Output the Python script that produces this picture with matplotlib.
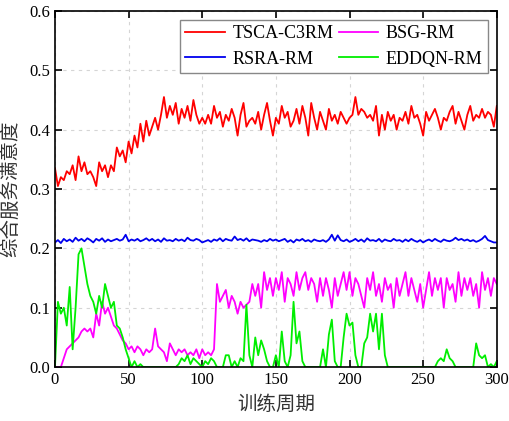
import matplotlib.pyplot as plt
import numpy as np

# training epochs (every 2nd epoch)
epochs = np.arange(0, 301, 2)

tsca_c3rm = [
    0.335, 0.305, 0.320, 0.315, 0.330, 0.325, 0.340, 0.315, 0.355, 0.330,
    0.345, 0.325, 0.330, 0.320, 0.305, 0.345, 0.330, 0.340, 0.320, 0.340,
    0.330, 0.370, 0.355, 0.365, 0.345, 0.380, 0.360, 0.390, 0.370, 0.410,
    0.380, 0.415, 0.390, 0.405, 0.420, 0.400, 0.425, 0.455, 0.420, 0.440,
    0.425, 0.445, 0.410, 0.435, 0.420, 0.440, 0.415, 0.450, 0.425, 0.410,
    0.420, 0.410, 0.425, 0.410, 0.440, 0.420, 0.430, 0.405, 0.425, 0.415,
    0.435, 0.420, 0.390, 0.425, 0.445, 0.405, 0.415, 0.420, 0.410, 0.430,
    0.400, 0.425, 0.445, 0.415, 0.390, 0.420, 0.410, 0.440, 0.420, 0.430,
    0.405, 0.415, 0.435, 0.410, 0.440, 0.420, 0.390, 0.445, 0.420, 0.400,
    0.430, 0.415, 0.400, 0.435, 0.415, 0.425, 0.410, 0.430, 0.420, 0.410,
    0.420, 0.425, 0.455, 0.425, 0.435, 0.430, 0.420, 0.425, 0.415, 0.440,
    0.390, 0.425, 0.400, 0.430, 0.415, 0.425, 0.400, 0.420, 0.415, 0.430,
    0.410, 0.440, 0.420, 0.425, 0.410, 0.390, 0.430, 0.415, 0.425, 0.435,
    0.420, 0.400, 0.420, 0.415, 0.430, 0.440, 0.410, 0.430, 0.415, 0.400,
    0.425, 0.440, 0.415, 0.425, 0.420, 0.435, 0.420, 0.430, 0.425, 0.405,
    0.440,
]

rsra_rm = [
    0.210, 0.214, 0.209, 0.216, 0.212, 0.215, 0.211, 0.218, 0.213, 0.216,
    0.212, 0.217, 0.214, 0.210, 0.216, 0.213, 0.217, 0.211, 0.215, 0.212,
    0.214, 0.216, 0.213, 0.215, 0.223, 0.212, 0.215, 0.213, 0.216, 0.212,
    0.214, 0.217, 0.213, 0.216, 0.212, 0.215, 0.211, 0.217, 0.213, 0.214,
    0.212, 0.216, 0.213, 0.215, 0.212, 0.218, 0.214, 0.213, 0.216, 0.214,
    0.210, 0.212, 0.214, 0.211, 0.215, 0.213, 0.217, 0.212, 0.216, 0.214,
    0.213, 0.220, 0.214, 0.216, 0.213, 0.217, 0.212, 0.215, 0.214, 0.213,
    0.211, 0.214, 0.212, 0.216, 0.213, 0.215, 0.212, 0.214, 0.216, 0.211,
    0.214, 0.210, 0.215, 0.213, 0.216, 0.212, 0.214, 0.211, 0.215, 0.213,
    0.212, 0.214, 0.211, 0.215, 0.223, 0.213, 0.222, 0.214, 0.212, 0.215,
    0.211, 0.213, 0.216, 0.212, 0.215, 0.211, 0.217, 0.213, 0.214, 0.212,
    0.216, 0.211, 0.215, 0.213, 0.212, 0.216, 0.213, 0.214, 0.211, 0.215,
    0.212, 0.216, 0.213, 0.211, 0.214, 0.210, 0.213, 0.215, 0.212, 0.216,
    0.213, 0.211, 0.215, 0.213, 0.212, 0.214, 0.218, 0.214, 0.216, 0.213,
    0.215, 0.212, 0.214, 0.211, 0.213, 0.216, 0.221, 0.214, 0.212, 0.210,
    0.210,
]

bsg_rm = [
    0.000, 0.000, 0.000, 0.015, 0.030, 0.035, 0.040, 0.045, 0.050, 0.060,
    0.065, 0.060, 0.065, 0.050, 0.090, 0.070, 0.110, 0.090, 0.100, 0.085,
    0.070, 0.065, 0.055, 0.045, 0.040, 0.030, 0.035, 0.025, 0.035, 0.030,
    0.020, 0.030, 0.025, 0.030, 0.065, 0.035, 0.030, 0.025, 0.010, 0.040,
    0.030, 0.020, 0.030, 0.025, 0.030, 0.020, 0.025, 0.020, 0.030, 0.015,
    0.030, 0.020, 0.025, 0.020, 0.030, 0.140, 0.110, 0.120, 0.130, 0.100,
    0.120, 0.110, 0.090, 0.110, 0.100, 0.105, 0.110, 0.140, 0.120, 0.140,
    0.100, 0.160, 0.130, 0.150, 0.120, 0.150, 0.130, 0.160, 0.110, 0.150,
    0.140, 0.120, 0.160, 0.130, 0.150, 0.160, 0.130, 0.150, 0.140, 0.110,
    0.150, 0.120, 0.150, 0.130, 0.100, 0.150, 0.120, 0.140, 0.160, 0.130,
    0.160, 0.120, 0.150, 0.140, 0.120, 0.100, 0.150, 0.130, 0.160, 0.120,
    0.140, 0.110, 0.150, 0.130, 0.140, 0.100, 0.150, 0.120, 0.140, 0.160,
    0.120, 0.150, 0.130, 0.110, 0.140, 0.100, 0.130, 0.160, 0.120, 0.150,
    0.130, 0.150, 0.100, 0.150, 0.130, 0.140, 0.110, 0.160, 0.120, 0.150,
    0.130, 0.150, 0.120, 0.140, 0.100, 0.160, 0.130, 0.150, 0.120, 0.150,
    0.140,
]

eddqn_rm = [
    0.000, 0.110, 0.090, 0.100, 0.070, 0.135, 0.030, 0.100, 0.190, 0.200,
    0.170, 0.140, 0.120, 0.110, 0.090, 0.120, 0.100, 0.140, 0.120, 0.100,
    0.110, 0.070, 0.065, 0.050, 0.030, 0.015, 0.000, 0.010, 0.000, 0.005,
    0.000, 0.000, 0.000, 0.000, 0.000, 0.000, 0.000, 0.000, 0.000, 0.000,
    0.000, 0.000, 0.005, 0.015, 0.010, 0.020, 0.005, 0.015, 0.010, 0.005,
    0.000, 0.010, 0.005, 0.015, 0.010, 0.000, 0.000, 0.000, 0.020, 0.020,
    0.000, 0.010, 0.000, 0.015, 0.010, 0.105, 0.020, 0.000, 0.050, 0.020,
    0.045, 0.030, 0.010, 0.000, 0.000, 0.020, 0.000, 0.060, 0.010, 0.000,
    0.020, 0.110, 0.040, 0.060, 0.010, 0.000, 0.000, 0.000, 0.000, 0.000,
    0.000, 0.030, 0.000, 0.055, 0.080, 0.010, 0.000, 0.000, 0.050, 0.090,
    0.070, 0.075, 0.020, 0.000, 0.000, 0.040, 0.050, 0.090, 0.060, 0.090,
    0.030, 0.090, 0.020, 0.000, 0.000, 0.000, 0.000, 0.000, 0.000, 0.000,
    0.000, 0.000, 0.000, 0.000, 0.000, 0.000, 0.000, 0.000, 0.000, 0.000,
    0.010, 0.015, 0.010, 0.030, 0.015, 0.010, 0.000, 0.000, 0.000, 0.000,
    0.000, 0.000, 0.000, 0.040, 0.020, 0.015, 0.020, 0.000, 0.005, 0.000,
    0.010,
]

series_labels = ["TSCA-C3RM", "RSRA-RM", "BSG-RM", "EDDQN-RM"]
series_colors = ["#ff0000", "#0000ee", "#ff00ff", "#00ee00"]

plt.rcParams['font.family'] = ['Liberation Serif', 'Noto Sans CJK SC']

fig = plt.figure(figsize=(5.09, 4.21), dpi=100)
ax = fig.add_axes([0.108, 0.128, 0.868, 0.846])

for vals, lab, col in zip([tsca_c3rm, rsra_rm, bsg_rm, eddqn_rm], series_labels, series_colors):
    ax.plot(epochs, vals, color=col, linewidth=1.3, label=lab)

ax.set_xlim(0, 300)
ax.set_ylim(0, 0.6)
ax.set_xticks(np.arange(0, 301, 50))
ax.set_yticks(np.arange(0, 0.61, 0.1))
ax.set_yticklabels([f"{v:.1f}" for v in np.arange(0, 0.61, 0.1)])
ax.grid(True, linestyle=(0, (3, 4)), color="#d5d5d5", linewidth=0.8)
ax.tick_params(direction="in", top=True, right=True, length=5, width=1.2, labelsize=12)
for sp in ax.spines.values():
    sp.set_linewidth(1.2)

ax.set_xlabel("训练周期", fontsize=14, family="Noto Sans CJK SC", color="#333333")
ax.set_ylabel("综合服务满意度", fontsize=14, family="Noto Sans CJK SC", color="#333333", labelpad=6)

leg = ax.legend(ncol=2, loc="upper right", fontsize=13, fancybox=False, edgecolor="#888888",
                framealpha=1, handlelength=2.2, columnspacing=0.3, borderaxespad=0.5,
                handletextpad=0.4, labelspacing=0.45, borderpad=0.3)

fig.savefig("out.png", dpi=100)
